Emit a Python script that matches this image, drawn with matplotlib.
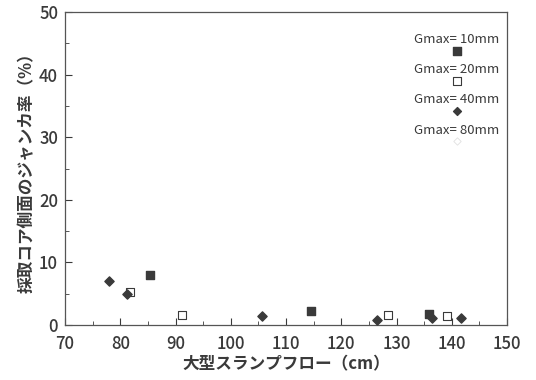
import matplotlib
matplotlib.use("Agg")
import matplotlib.pyplot as plt
from matplotlib.ticker import MultipleLocator

plt.rcParams['font.family'] = ['Noto Sans CJK JP', 'DejaVu Sans']

# Gmax = 10 mm (filled square)
x10 = [85.4, 114.6, 135.9]
y10 = [8.0, 2.2, 1.7]
# Gmax = 20 mm (open square)
x20 = [81.8, 91.1, 128.5, 139.1]
y20 = [5.3, 1.6, 1.6, 1.4]
# Gmax = 40 mm (filled diamond)
x40 = [78.0, 81.3, 105.7, 126.5, 136.5, 141.7]
y40 = [7.0, 4.9, 1.5, 0.8, 1.1, 1.1]

labels = ['Gmax= 10mm', 'Gmax= 20mm', 'Gmax= 40mm', 'Gmax= 80mm']
ink = '#3a3a3a'

fig = plt.figure(figsize=(5.36, 3.8), dpi=100)
ax = fig.add_axes([65 / 536, 55 / 380, 442 / 536, 313 / 380])

ax.scatter(x10, y10, marker='s', s=40, color=ink, zorder=3)
ax.scatter(x20, y20, marker='s', s=40, facecolor='white', edgecolor=ink, linewidth=0.8, zorder=3)
ax.scatter(x40, y40, marker='D', s=22, color=ink, zorder=3)

ax.set_xlim(70, 150)
ax.set_ylim(0, 50)
ax.xaxis.set_major_locator(MultipleLocator(10))
ax.xaxis.set_minor_locator(MultipleLocator(5))
ax.yaxis.set_major_locator(MultipleLocator(10))
ax.yaxis.set_minor_locator(MultipleLocator(5))
ax.tick_params(which='both', direction='in', colors=ink, labelsize=12)
ax.tick_params(which='major', length=5)
ax.tick_params(which='minor', length=3)
ax.tick_params(axis='x', pad=7)
ax.tick_params(axis='y', pad=5)
for t in ax.get_xticklabels() + ax.get_yticklabels():
    t.set_fontweight('medium')
for sp in ax.spines.values():
    sp.set_color('#555555')
    sp.set_linewidth(0.9)

ax.set_xlabel('大型スランプフロー（cm）', fontsize=12, fontweight='bold', color=ink, labelpad=2)
ax.set_ylabel('採取コア側面のジャンカ率（%）', fontsize=12, fontweight='bold', color=ink, labelpad=2)

# legend keys: label with its marker centred beneath
key_markers = [dict(marker='s', s=30, color=ink),
               dict(marker='s', s=30, facecolor='white', edgecolor=ink, linewidth=0.8),
               dict(marker='D', s=16, color=ink),
               dict(marker='D', s=14, facecolor='white', edgecolor='#e0e0e0', linewidth=0.6)]
for i, (lab, km) in enumerate(zip(labels, key_markers)):
    ty = 0.911 - i * 0.096
    ax.text(0.887, ty, lab, transform=ax.transAxes, ha='center', va='center',
            fontsize=9.5, color=ink)
    ax.scatter([0.887], [ty - 0.036], transform=ax.transAxes, clip_on=False, **km)

fig.savefig('out.png', dpi=100)
